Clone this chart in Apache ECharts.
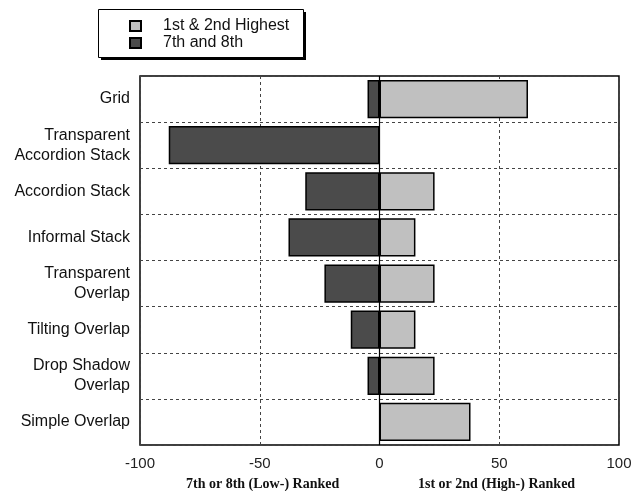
<!DOCTYPE html>
<html>
<head>
<meta charset="utf-8">
<script src="https://cdn.jsdelivr.net/npm/echarts@6/dist/echarts.min.js"></script>
<style>
html,body{margin:0;padding:0;background:#fff;}
#chart{width:644px;height:491px;}
</style>
</head>
<body>
<div id="chart"></div>
<script>
var categories = ['Grid', 'Transparent\nAccordion Stack', 'Accordion Stack', 'Informal Stack', 'Transparent\nOverlap', 'Tilting Overlap', 'Drop Shadow\nOverlap', 'Simple Overlap'];
var highValues = [62, null, 23, 15, 23, 15, 23, 38];
var lowValues = [-5, -88, -31, -38, -23, -12, -5, null];
var seriesNames = ['1st & 2nd Highest', '7th and 8th'];
var xTicks = [-100, -50, 0, 50, 100];
var axisTitles = ['7th or 8th (Low-) Ranked', '1st or 2nd (High-) Ranked'];

var chart = echarts.init(document.getElementById('chart'), null, {renderer: 'canvas'});
var sansFont = '"Liberation Sans", Arial, sans-serif';
var serifFont = '"Liberation Serif", "Times New Roman", serif';

chart.setOption({
  animation: false,
  backgroundColor: '#fff',
  grid: {left: 140, right: 25, top: 76, bottom: 46, show: true, borderColor: '#000', borderWidth: 1.5, backgroundColor: 'transparent'},
  legend: {
    orient: 'vertical', left: 98, top: 9, z: 20,
    padding: [9, 11, 10, 31],
    itemWidth: 11, itemHeight: 10, itemGap: 1,
    icon: 'rect',
    textStyle: {fontFamily: sansFont, fontSize: 16, color: '#111', lineHeight: 15, padding: [0, 0, 0, 17]},
    data: seriesNames
  },
  xAxis: {
    type: 'value', min: xTicks[0], max: xTicks[xTicks.length - 1], interval: 50,
    axisLine: {show: false}, axisTick: {show: false},
    axisLabel: {fontFamily: sansFont, fontSize: 15, color: '#222', margin: 11},
    splitLine: {show: true, lineStyle: {color: '#444', type: [3, 3], width: 1}}
  },
  yAxis: {
    type: 'category', data: categories, inverse: true,
    axisLine: {show: false}, axisTick: {show: false},
    axisLabel: {fontFamily: sansFont, fontSize: 16, color: '#111', margin: 10, lineHeight: 20, align: 'right'},
    splitLine: {show: true, lineStyle: {color: '#444', type: [3, 3], width: 1}}
  },
  series: [
    {
      name: seriesNames[0], type: 'bar', data: highValues,
      barGap: '-100%', barCategoryGap: '17%',
      itemStyle: {color: '#c0c0c0', borderColor: '#000', borderWidth: 1.5},
      markLine: {silent: true, symbol: 'none', label: {show: false},
        lineStyle: {color: '#000', type: 'solid', width: 1.2}, data: [{xAxis: 0}]}
    },
    {
      name: seriesNames[1], type: 'bar', data: lowValues,
      barGap: '-100%', barCategoryGap: '17%',
      itemStyle: {color: '#4b4b4b', borderColor: '#000', borderWidth: 1.5}
    }
  ],
  graphic: [
    {type: 'rect', z: 10, shape: {x: 101, y: 12, width: 205, height: 48}, style: {fill: '#000'}},
    {type: 'rect', z: 11, shape: {x: 98.5, y: 9.5, width: 205, height: 48}, style: {fill: '#fff', stroke: '#000', lineWidth: 1}},
    {type: 'text', left: 186, top: 477, style: {text: axisTitles[0], font: 'bold 14px ' + serifFont, fill: '#111'}},
    {type: 'text', left: 418, top: 477, style: {text: axisTitles[1], font: 'bold 14px ' + serifFont, fill: '#111'}}
  ]
});
</script>
</body>
</html>
